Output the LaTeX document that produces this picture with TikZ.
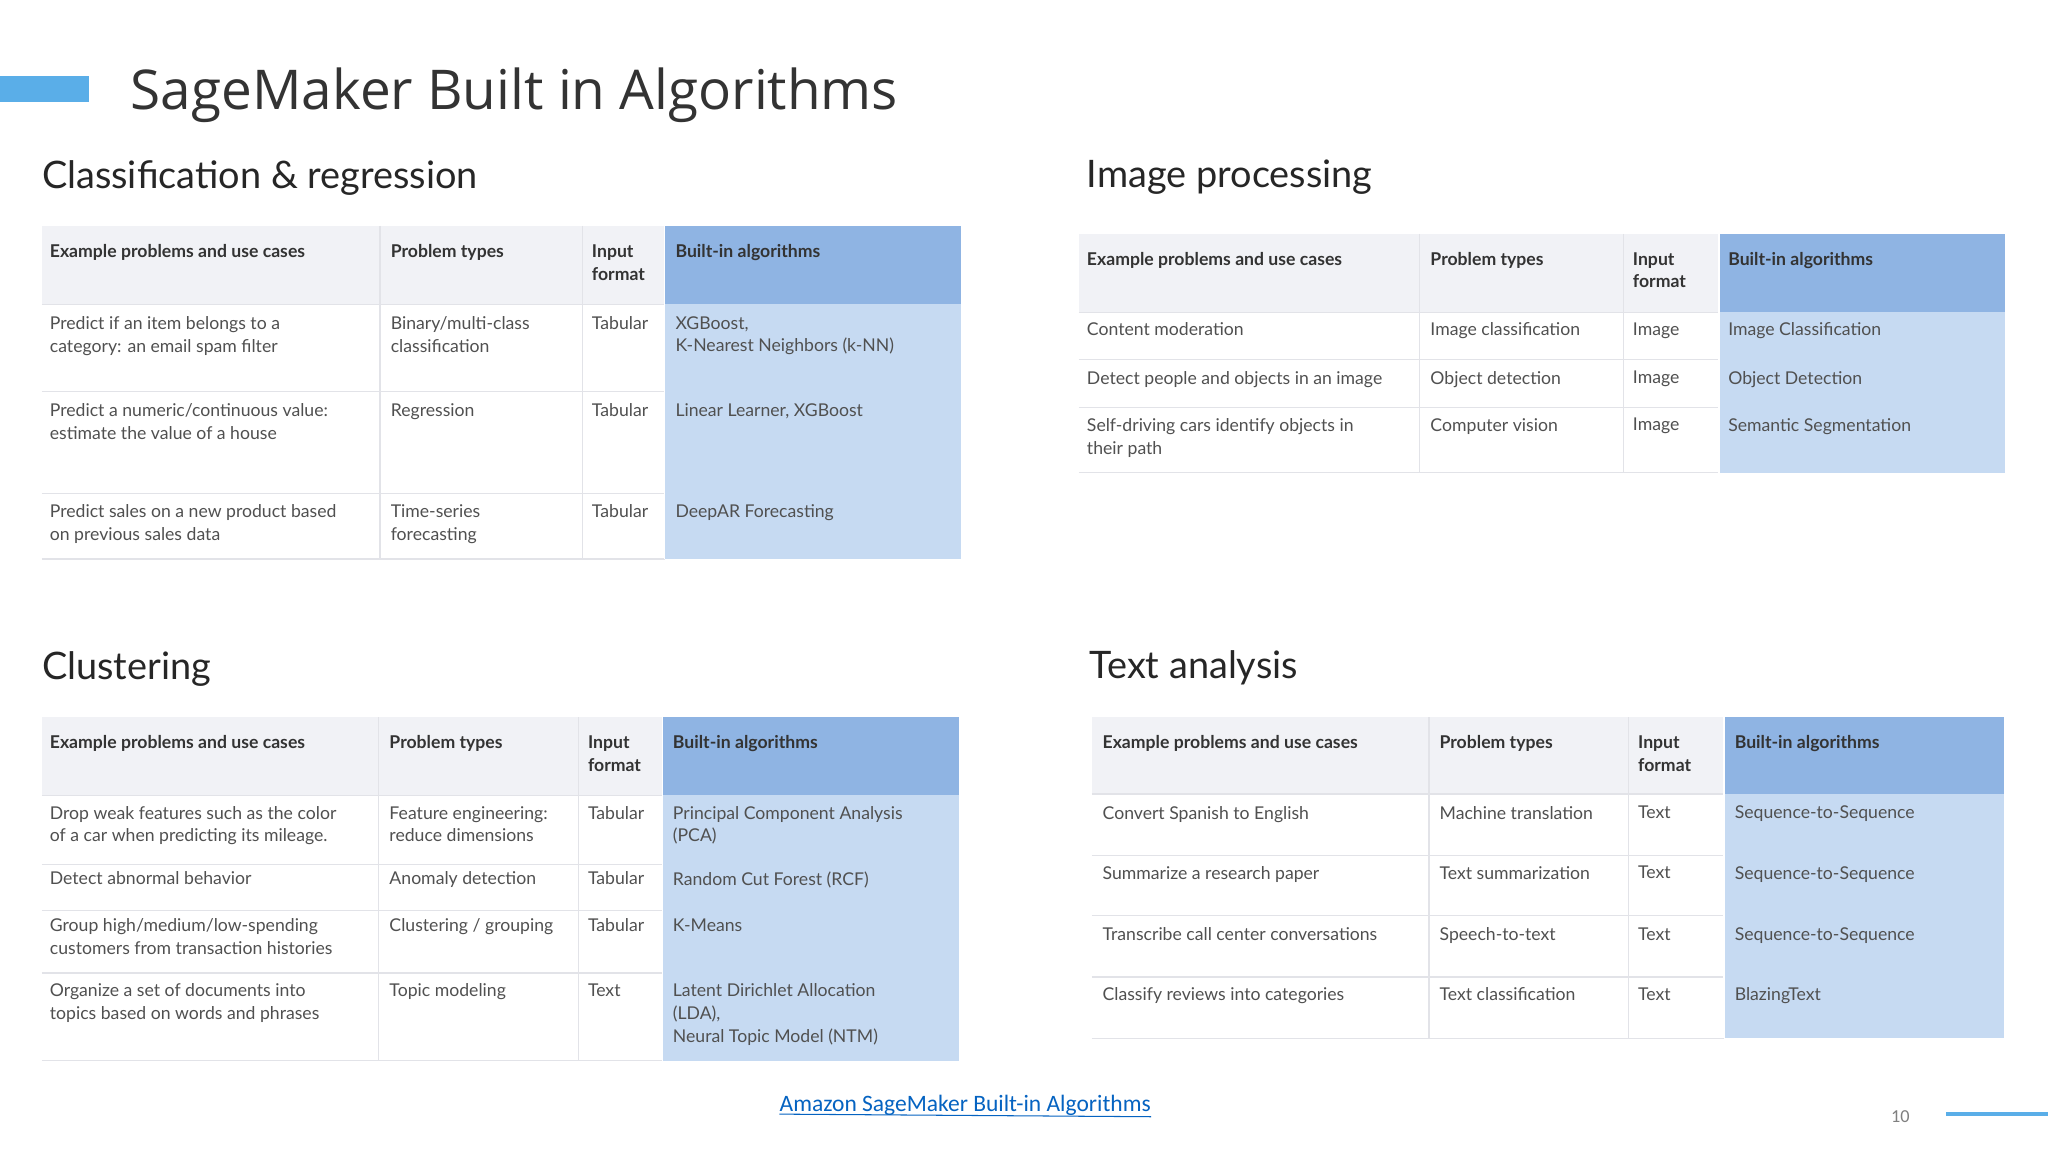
\documentclass[tikz,border=0pt]{standalone}
\usepackage{fontspec}
\setmainfont{Lato}
\newfontfamily\titlefont{Open Sans}
\newfontfamily\linkfont{Carlito}
\usepackage{xcolor}
\definecolor{bhead}{HTML}{8FB4E3}
\definecolor{bbody}{HTML}{C6DAF2}
\definecolor{hgray}{HTML}{F1F2F6}
\definecolor{lgray}{HTML}{E2E3E8}
\definecolor{tgray}{HTML}{505050}
\definecolor{accent}{HTML}{5AAEE8}
\definecolor{linkblue}{HTML}{0563C1}
\tikzset{cell/.style={anchor=north west,inner sep=0pt,align=left,font=\fontsize{13.5}{17.5}\selectfont,text=tgray},
hcell/.style={cell,font=\fontsize{13.5}{17.5}\selectfont\bfseries,text=black!80},
sect/.style={anchor=west,inner sep=0pt,font=\fontsize{29}{34}\selectfont,text=black!85}}
% \tbl{x0}{x1}{x2}{x3}{x4}{headtop}{headbot}{bottom}{list of row separators}
\newcommand{\mytbl}[9]{%
  \fill[hgray] (#1,#6) rectangle (#5,#7);
  \fill[bhead] (#4,#6) rectangle (#5,#7);
  \fill[bbody] (#4,#7) rectangle (#5,#8);
  \foreach \yy in {#7,#9,#8} {\draw[lgray,line width=1pt] (#1,\yy) -- (#4,\yy);}
  \foreach \xx in {#2,#3} {\draw[lgray,line width=1pt] (\xx,#6) -- (\xx,#8);}
  \draw[white,line width=1pt] (#4,#6) -- (#4,#8);
}
\begin{document}
\begin{tikzpicture}[x=1pt,y=-1pt]
\useasboundingbox[fill=white] (0,0) rectangle (1568,882);
% title
\fill[accent] (0,58) rectangle (68,78);
\node[anchor=base west,inner sep=0pt,font=\titlefont\fontsize{42}{48}\selectfont,text=black!80] (title) at (100,84) {SageMaker Built in Algorithms};
% sections
\node[sect] (s1) at (32,136) {Classification \& regression};
\node[sect] (s2) at (832,136) {Image processing};
\node[sect] (s3) at (32,512) {Clustering};
\node[sect] (s4) at (834,511) {Text analysis};

% table 1
\mytbl{32}{291}{446}{509}{736}{173}{233}{428}{300,378}
\node[hcell] (a1) at (38,187) {Example problems and use cases};
\node[hcell] (a2) at (299,187) {Problem types};
\node[hcell] (a3) at (453,187) {Input\\format};
\node[hcell] (a4) at (517,187) {Built-in algorithms};
\node[cell] (a11) at (38,242) {Predict if an item belongs to a\\category: an email spam filter};
\node[cell] (a12) at (299,242) {Binary/multi-class\\classification};
\node[cell] (a13) at (453,242) {Tabular};
\node[cell] (a14) at (517,242) {XGBoost,\\K-Nearest Neighbors (k-NN)};
\node[cell] (a21) at (38,309) {Predict a numeric/continuous value:\\estimate the value of a house};
\node[cell] (a22) at (299,309) {Regression};
\node[cell] (a23) at (453,309) {Tabular};
\node[cell] (a24) at (517,309) {Linear Learner, XGBoost};
\node[cell] (a31) at (38,386) {Predict sales on a new product based\\on previous sales data};
\node[cell] (a32) at (299,386) {Time-series\\forecasting};
\node[cell] (a33) at (453,386) {Tabular};
\node[cell] (a34) at (517,386) {DeepAR Forecasting};

% table 2
\mytbl{826}{1087}{1243}{1316}{1535}{179}{239}{362}{275,312}
\node[hcell] (b1) at (832,193) {Example problems and use cases};
\node[hcell] (b2) at (1095,193) {Problem types};
\node[hcell] (b3) at (1250,193) {Input\\format};
\node[hcell] (b4) at (1323,193) {Built-in algorithms};
\node[cell] (b11) at (832,247) {Content moderation};
\node[cell] (b12) at (1095,247) {Image classification};
\node[cell] (b13) at (1250,247) {Image};
\node[cell] (b14) at (1323,247) {Image Classification};
\node[cell] (b21) at (832,284) {Detect people and objects in an image};
\node[cell] (b22) at (1095,284) {Object detection};
\node[cell] (b23) at (1250,284) {Image};
\node[cell] (b24) at (1323,284) {Object Detection};
\node[cell] (b31) at (832,320) {Self-driving cars identify objects in\\their path};
\node[cell] (b32) at (1095,320) {Computer vision};
\node[cell] (b33) at (1250,320) {Image};
\node[cell] (b34) at (1323,320) {Semantic Segmentation};

% table 3
\mytbl{32}{290}{443}{507}{734}{549}{609}{812}{662,697,745}
\node[hcell] (c1) at (38,563) {Example problems and use cases};
\node[hcell] (c2) at (298,563) {Problem types};
\node[hcell] (c3) at (450,563) {Input\\format};
\node[hcell] (c4) at (515,563) {Built-in algorithms};
\node[cell] (c11) at (38,617) {Drop weak features such as the color\\of a car when predicting its mileage.};
\node[cell] (c12) at (298,617) {Feature engineering:\\reduce dimensions};
\node[cell] (c13) at (450,617) {Tabular};
\node[cell] (c14) at (515,617) {Principal Component Analysis\\(PCA)};
\node[cell] (c21) at (38,667) {Detect abnormal behavior};
\node[cell] (c22) at (298,667) {Anomaly detection};
\node[cell] (c23) at (450,667) {Tabular};
\node[cell] (c24) at (515,667) {Random Cut Forest (RCF)};
\node[cell] (c31) at (38,703) {Group high/medium/low-spending\\customers from transaction histories};
\node[cell] (c32) at (298,703) {Clustering / grouping};
\node[cell] (c33) at (450,703) {Tabular};
\node[cell] (c34) at (515,703) {K-Means};
\node[cell] (c41) at (38,753) {Organize a set of documents into\\topics based on words and phrases};
\node[cell] (c42) at (298,753) {Topic modeling};
\node[cell] (c43) at (450,753) {Text};
\node[cell] (c44) at (515,753) {Latent Dirichlet Allocation\\(LDA),\\Neural Topic Model (NTM)};

% table 4
\mytbl{836}{1094}{1247}{1320}{1534}{549}{608}{795}{655,701,748}
\node[hcell] (d1) at (844,563) {Example problems and use cases};
\node[hcell] (d2) at (1102,563) {Problem types};
\node[hcell] (d3) at (1254,563) {Input\\format};
\node[hcell] (d4) at (1328,563) {Built-in algorithms};
\node[cell] (d11) at (844,617) {Convert Spanish to English};
\node[cell] (d12) at (1102,617) {Machine translation};
\node[cell] (d13) at (1254,617) {Text};
\node[cell] (d14) at (1328,617) {Sequence-to-Sequence};
\node[cell] (d21) at (844,663) {Summarize a research paper};
\node[cell] (d22) at (1102,663) {Text summarization};
\node[cell] (d23) at (1254,663) {Text};
\node[cell] (d24) at (1328,663) {Sequence-to-Sequence};
\node[cell] (d31) at (844,710) {Transcribe call center conversations};
\node[cell] (d32) at (1102,710) {Speech-to-text};
\node[cell] (d33) at (1254,710) {Text};
\node[cell] (d34) at (1328,710) {Sequence-to-Sequence};
\node[cell] (d41) at (844,756) {Classify reviews into categories};
\node[cell] (d42) at (1102,756) {Text classification};
\node[cell] (d43) at (1254,756) {Text};
\node[cell] (d44) at (1328,756) {BlazingText};

% footer
\node[inner sep=0pt,font=\linkfont\fontsize{18}{22}\selectfont,text=linkblue] (link) at (739,846) {Amazon SageMaker Built-in Algorithms};
\draw[linkblue,line width=0.8pt] (link.south west) ++(0,-1) -- ([yshift=-1pt]link.south east);
\node[inner sep=0pt,font=\linkfont\fontsize{14}{16}\selectfont,text=black!50] (pg) at (1455,855) {10};
\coordinate (l1) at (1490,853);
\coordinate (l2) at (1568,853);
\draw[accent,line width=2.5pt] (l1) -- (l2);
\end{tikzpicture}
\end{document}
